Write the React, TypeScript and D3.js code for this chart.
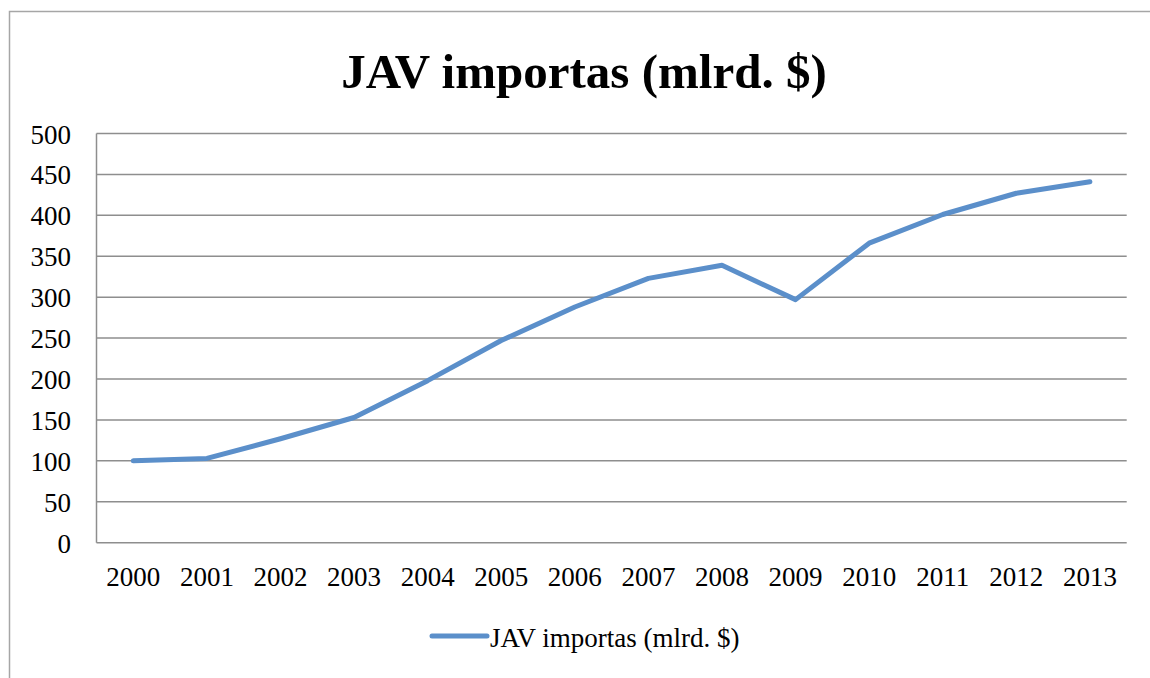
import React from "react";
import * as d3 from "d3";

const years = ["2000","2001","2002","2003","2004","2005","2006","2007","2008","2009","2010","2011","2012","2013"];
const imports = [100, 103, 127, 153, 198, 247, 288, 323, 339, 297, 366, 401, 427, 441];
const yTicks = [0, 50, 100, 150, 200, 250, 300, 350, 400, 450, 500];
const title = "JAV importas (mlrd. $)";
const seriesName = "JAV importas (mlrd. $)";

const W = 1150, H = 678;
const plot = { left: 96.5, right: 1126.7, top: 133.5, bottom: 542.7 };
const FONT = "'Liberation Serif', 'Times New Roman', serif";
const LINE = "#5B8FCA";
const GRID = "#8E8E8E";

export default function App() {
  const x = d3.scalePoint<string>().domain(years).range([plot.left, plot.right]).padding(0.5);
  const y = d3.scaleLinear().domain([0, 500]).range([plot.bottom, plot.top]);
  const line = d3.line<number>().x((_, i) => x(years[i]) as number).y((d) => y(d));
  return (
    <svg width={W} height={H} style={{ position: "fixed", left: 0, top: 0, background: "#fff" }}>
      <rect x={9.5} y={11.5} width={W + 20} height={H + 20} fill="#fff" stroke="#A6A6A6" strokeWidth={1.5} />
      <text x={584} y={88} textAnchor="middle" fontFamily={FONT} fontWeight="bold" fontSize={49} fill="#000">{title}</text>
      {yTicks.map((t) => (
        <g key={t}>
          <line x1={plot.left} x2={plot.right} y1={y(t)} y2={y(t)} stroke={GRID} strokeWidth={1.5} />
          <text x={71} y={y(t) + 10} textAnchor="end" fontFamily={FONT} fontSize={27} fill="#000">{t}</text>
        </g>
      ))}
      <line x1={plot.left} x2={plot.left} y1={plot.top} y2={plot.bottom} stroke={GRID} strokeWidth={1.5} />
      {years.map((yr) => (
        <text key={yr} x={x(yr)} y={586} textAnchor="middle" fontFamily={FONT} fontSize={27} fill="#000">{yr}</text>
      ))}
      <path d={line(imports) || ""} fill="none" stroke={LINE} strokeWidth={5} strokeLinecap="round" strokeLinejoin="round" />
      <line x1={432} x2={487} y1={636} y2={636} stroke={LINE} strokeWidth={5} strokeLinecap="round" />
      <text x={490} y={647} fontFamily={FONT} fontSize={27} fill="#000">{seriesName}</text>
    </svg>
  );
}
